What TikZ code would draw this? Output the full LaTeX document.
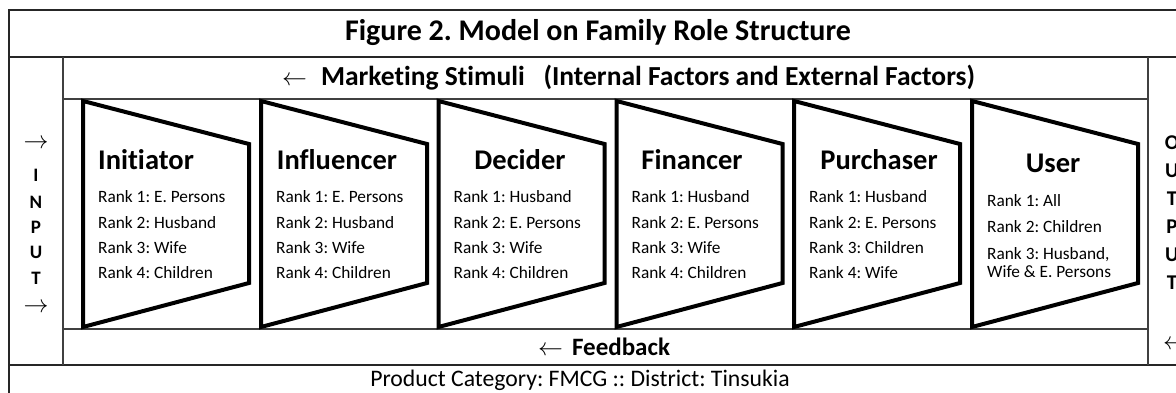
\documentclass[tikz,border=0pt]{standalone}
\usepackage{fontspec}
\setmainfont{Carlito}[Ligatures={NoCommon,NoContextual}]
\frenchspacing
\begin{document}
\begin{tikzpicture}[x=1pt,y=-1pt,
  frame/.style={draw=black!85,line width=2pt},
  inner/.style={draw=black!75,line width=1.6pt},
  funnel/.style={draw=black,line width=4pt,line join=miter},
  role/.style={font=\fontsize{28.5}{30}\selectfont\bfseries,anchor=base,inner sep=0pt},
  rank/.style={font=\fontsize{17.3}{19}\selectfont,anchor=base west,inner sep=0pt},
  band/.style={font=\fontsize{25}{28}\selectfont\bfseries,inner sep=0pt},
  side/.style={font=\fontsize{19}{20}\selectfont\bfseries,inner sep=0pt},
  arr/.style={font=\fontsize{26}{28}\selectfont,inner sep=0pt}]
\useasboundingbox (0,0) rectangle (1176,393);
\fill[white] (0,0) rectangle (1176,393);
% frame
\draw[frame] (9,400)--(9,10)--(1190,10);
\draw[frame,line width=2.6pt] (9,57)--(1190,57);
\draw[frame,line width=2.6pt] (9,365)--(1190,365);
\draw[inner] (63,57)--(63,365);
\draw[inner] (1148,57)--(1148,365);
\draw[inner] (63,99)--(1148,99);
\draw[inner] (63,329)--(1148,329);
\node[font=\fontsize{30}{32}\selectfont\bfseries] (title) at (598,33)
  {Figure 2. Model on Family Role Structure};
\node[band,font=\fontsize{27.5}{30}\selectfont\bfseries,anchor=west] (stimuli) at (282,78)
  {$\leftarrow$\hspace{14pt}Marketing Stimuli~~~(Internal Factors and External Factors)};
\node[band,anchor=west] (feedback) at (538,347) {$\leftarrow$\hspace{9pt}Feedback};
\node[font=\fontsize{23.7}{26}\selectfont] (category) at (580,380)
  {Product Category: FMCG :: District: Tinsukia};
% input
\node[arr] (in1) at (36,144) {$\rightarrow$};
\node[side] (inI) at (36,175) {I};
\node[side] (inN) at (36,202) {N};
\node[side] (inP) at (36,227) {P};
\node[side] (inU) at (36,252) {U};
\node[side] (inT) at (36,278) {T};
\node[arr] (in2) at (36,308) {$\rightarrow$};
% output
\node[side,font=\fontsize{21}{22}\selectfont\bfseries] (outO) at (1172,143) {O};
\node[side,font=\fontsize{21}{22}\selectfont\bfseries] (outU) at (1172,171) {U};
\node[side,font=\fontsize{21}{22}\selectfont\bfseries] (outT) at (1172,199) {T};
\node[side,font=\fontsize{21}{22}\selectfont\bfseries] (outP) at (1172,227) {P};
\node[side,font=\fontsize{21}{22}\selectfont\bfseries] (outV) at (1172,255) {U};
\node[side,font=\fontsize{21}{22}\selectfont\bfseries] (outW) at (1172,283) {T};
\node[arr,anchor=west] (out1) at (1163,345) {$\leftarrow$};
% initiator
\draw[funnel] (83,101)--(249,144)--(249,283)--(83,327)--cycle;
\node[role] (initiator) at (146,170) {Initiator};
\node[rank] (ini1) at (98,203) {Rank 1: E. Persons};
\node[rank] (ini2) at (98,228) {Rank 2: Husband};
\node[rank] (ini3) at (98,253) {Rank 3: Wife};
\node[rank] (ini4) at (98,278) {Rank 4: Children};
% influencer
\draw[funnel] (261,101)--(427,144)--(427,283)--(261,327)--cycle;
\node[role] (influencer) at (337,170) {Influencer};
\node[rank] (inf1) at (276,203) {Rank 1: E. Persons};
\node[rank] (inf2) at (276,228) {Rank 2: Husband};
\node[rank] (inf3) at (276,253) {Rank 3: Wife};
\node[rank] (inf4) at (276,278) {Rank 4: Children};
% decider
\draw[funnel] (438.5,101)--(604.5,144)--(604.5,283)--(438.5,327)--cycle;
\node[role] (decider) at (520,170) {Decider};
\node[rank] (dec1) at (453.5,203) {Rank 1: Husband};
\node[rank] (dec2) at (453.5,228) {Rank 2: E. Persons};
\node[rank] (dec3) at (453.5,253) {Rank 3: Wife};
\node[rank] (dec4) at (453.5,278) {Rank 4: Children};
% financer
\draw[funnel] (616.5,101)--(782.5,144)--(782.5,283)--(616.5,327)--cycle;
\node[role] (financer) at (692,170) {Financer};
\node[rank] (fin1) at (631.5,203) {Rank 1: Husband};
\node[rank] (fin2) at (631.5,228) {Rank 2: E. Persons};
\node[rank] (fin3) at (631.5,253) {Rank 3: Wife};
\node[rank] (fin4) at (631.5,278) {Rank 4: Children};
% purchaser
\draw[funnel] (794,101)--(960,144)--(960,283)--(794,327)--cycle;
\node[role] (purchaser) at (879,170) {Purchaser};
\node[rank] (pur1) at (809,203) {Rank 1: Husband};
\node[rank] (pur2) at (809,228) {Rank 2: E. Persons};
\node[rank] (pur3) at (809,253) {Rank 3: Children};
\node[rank] (pur4) at (809,278) {Rank 4: Wife};
% user
\draw[funnel] (972,101)--(1138,144)--(1138,283)--(972,327)--cycle;
\node[role] (user) at (1053,172) {User};
\node[rank] (use1) at (987,207) {Rank 1: All};
\node[rank] (use2) at (987,232) {Rank 2: Children};
\node[rank] (use3) at (987,259) {Rank 3: Husband,};
\node[rank] (use4) at (987,277) {Wife \& E. Persons};
\end{tikzpicture}
\end{document}
